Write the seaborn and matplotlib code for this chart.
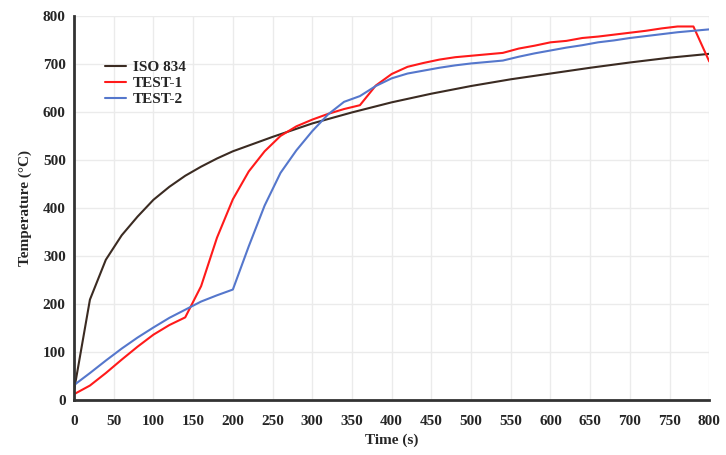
import matplotlib
matplotlib.use("Agg")
import matplotlib.pyplot as plt
import seaborn as sns
import pandas as pd

iso_t = [0, 20, 40, 60, 80, 100, 120, 140, 160, 180, 200, 250, 300, 350, 400, 450, 500, 550, 600, 650, 700, 750, 800]
iso_v = [20, 209, 292, 343, 382, 417, 444, 467, 486, 503, 518, 548, 576, 599, 620, 638, 654, 668, 680, 692, 703, 713, 721]

t1_t = [0, 20, 40, 60, 80, 100, 120, 140, 160, 180, 200, 220, 240, 260, 280, 300, 320, 340, 360, 380, 400, 420, 440, 460, 480, 500, 520, 540, 560, 580, 600, 620, 640, 660, 680, 700, 720, 740, 760, 780, 800]
t1_v = [12, 30, 56, 84, 111, 136, 156, 172, 237, 338, 418, 476, 518, 550, 570, 584, 596, 606, 614, 655, 679, 694, 702, 709, 714, 717, 720, 723, 732, 738, 745, 748, 754, 757, 761, 765, 769, 774, 778, 778, 705]

t2_t = [0, 20, 40, 60, 80, 100, 120, 140, 160, 180, 200, 220, 240, 260, 280, 300, 320, 340, 360, 380, 400, 420, 440, 460, 480, 500, 520, 540, 560, 580, 600, 620, 640, 660, 680, 700, 720, 740, 760, 780, 800]
t2_v = [31, 56, 82, 107, 130, 151, 171, 188, 205, 218, 230, 320, 405, 473, 520, 560, 595, 621, 633, 654, 670, 680, 686, 692, 697, 701, 704, 707, 715, 722, 728, 734, 739, 745, 749, 754, 758, 762, 766, 769, 772]

labels = ["ISO 834", "TEST-1", "TEST-2"]
colors = ["#3b2b22", "#ff1a1a", "#5577cc"]

df = pd.concat([
    pd.DataFrame({"Time": iso_t, "Temp": iso_v, "Series": labels[0]}),
    pd.DataFrame({"Time": t1_t, "Temp": t1_v, "Series": labels[1]}),
    pd.DataFrame({"Time": t2_t, "Temp": t2_v, "Series": labels[2]}),
])

sns.set_style("whitegrid")
plt.rcParams["font.family"] = ["Liberation Serif", "DejaVu Serif"]
plt.rcParams["font.weight"] = "bold"

fig = plt.figure(figsize=(7.26, 4.55), dpi=100)
ax = fig.add_axes([0.102, 0.121, 0.875, 0.844])
sns.lineplot(data=df, x="Time", y="Temp", hue="Series", palette=colors,
             hue_order=labels, linewidth=1.5, ax=ax, sort=False, estimator=None)

ax.set_xlim(0, 800)
ax.set_ylim(0, 800)
ax.set_xticks(range(0, 801, 50))
ax.set_yticks(range(0, 801, 100))
ax.tick_params(axis="both", length=0, labelsize=11)
ax.tick_params(axis="x", pad=11)
ax.tick_params(axis="y", pad=6)
for lab in ax.get_xticklabels() + ax.get_yticklabels():
    lab.set_fontweight("bold")
ax.grid(True, color="#ebebeb", linewidth=1)
ax.set_xlabel("Time (s)", fontsize=11, fontweight="bold", labelpad=4)
ax.set_ylabel("Temperature (°C)", fontsize=11, fontweight="bold", labelpad=8)
for s in ["top", "right"]:
    ax.spines[s].set_visible(False)
for s in ["left", "bottom"]:
    ax.spines[s].set_color("#333333")
    ax.spines[s].set_linewidth(2)

leg = ax.legend(loc="upper left", bbox_to_anchor=(0.027, 0.92), frameon=False,
                prop={"weight": "bold", "size": 11}, handlelength=1.4,
                handletextpad=0.45, labelspacing=0.15, title=None)

fig.savefig("out.png", dpi=100)
